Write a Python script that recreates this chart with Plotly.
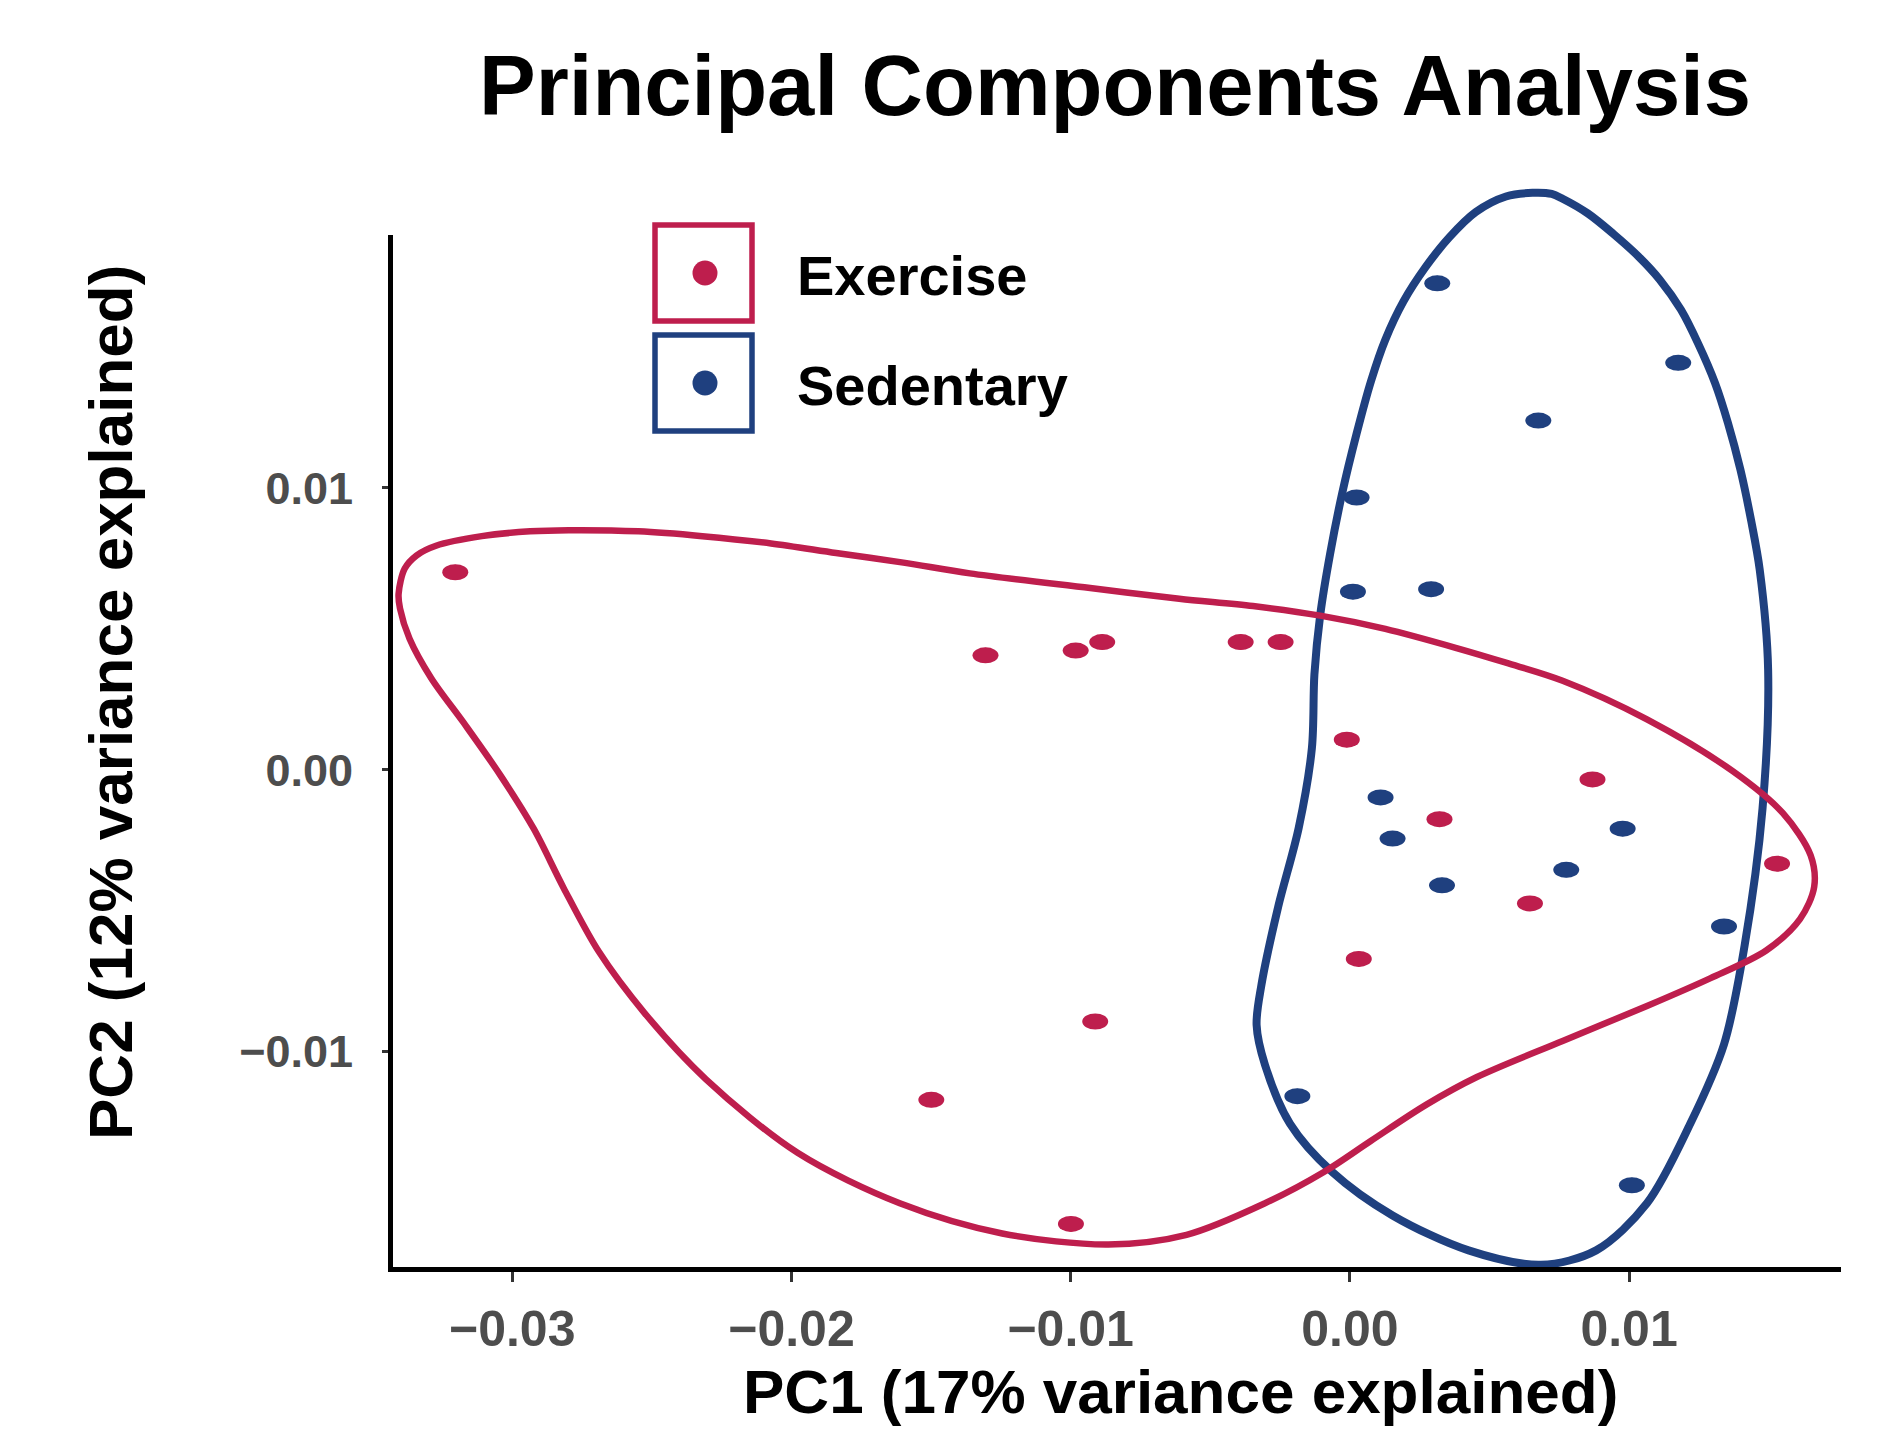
import plotly.graph_objects as go

# ---------------- data ----------------
exercise_pc1 = [-0.03204, -0.01305, -0.00982, -0.00887, -0.00391, -0.00248, -0.00011,
                0.00869, 0.00321, 0.00645, 0.01530, 0.00032, -0.00912, -0.01499, -0.00999]
exercise_pc2 = [0.00701, 0.00406, 0.00423, 0.00453, 0.00453, 0.00453, 0.00107,
                -0.00034, -0.00175, -0.00474, -0.00333, -0.00671, -0.00893, -0.01171, -0.01611]

sedentary_pc1 = [0.00313, 0.01176, 0.00675, 0.00024, 0.00011, 0.00291, 0.00110,
                 0.00153, 0.00977, 0.00775, 0.00330, 0.01340, -0.00188, 0.01010]
sedentary_pc2 = [0.01726, 0.01444, 0.01239, 0.00966, 0.00632, 0.00641, -0.00098,
                 -0.00244, -0.00209, -0.00355, -0.00410, -0.00556, -0.01158, -0.01474]

# group outlines
exercise_hull_pc1 = [-0.03407, -0.03385, -0.03342, -0.03273, -0.03109, -0.02936, -0.02798, -0.02548,
                     -0.02319, -0.02073, -0.01840, -0.01599, -0.01361, -0.00930, -0.00611, -0.00347,
                     -0.00106, 0.00127, 0.00382, 0.00559, 0.00762, 0.01064, 0.01370, 0.01551,
                     0.01650, 0.01663, 0.01612, 0.01491, 0.01292, 0.01064, 0.00762, 0.00455,
                     0.00274, 0.00076, -0.00093, -0.00304, -0.00585, -0.00865, -0.01245, -0.01612,
                     -0.01978, -0.02306, -0.02526, -0.02690, -0.02816, -0.02923, -0.03044, -0.03174,
                     -0.03290, -0.03368, -0.03402, -0.03407]
exercise_hull_pc2 = [0.00624, 0.00714, 0.00761, 0.00795, 0.00829, 0.00846, 0.00850, 0.00846,
                     0.00829, 0.00803, 0.00769, 0.00735, 0.00697, 0.00645, 0.00607, 0.00581,
                     0.00547, 0.00500, 0.00432, 0.00380, 0.00316, 0.00179, -0.00004, -0.00154,
                     -0.00303, -0.00415, -0.00530, -0.00641, -0.00739, -0.00838, -0.00962, -0.01090,
                     -0.01188, -0.01316, -0.01427, -0.01538, -0.01650, -0.01684, -0.01645, -0.01538,
                     -0.01359, -0.01098, -0.00863, -0.00645, -0.00419, -0.00209, -0.00017, 0.00167,
                     0.00325, 0.00466, 0.00573, 0.00624]

sedentary_hull_pc1 = [0.00654, 0.00559, 0.00451, 0.00356, 0.00270, 0.00192, 0.00127, 0.00076,
                      0.00024, -0.00028, -0.00071, -0.00106, -0.00127, -0.00136, -0.00183,
                      -0.00257, -0.00317, -0.00334, -0.00304, -0.00214, -0.00063, 0.00153, 0.00425,
                      0.00684, 0.00882, 0.01064, 0.01219, 0.01340, 0.01413, 0.01478, 0.01498,
                      0.01468, 0.01437, 0.01399, 0.01354, 0.01308, 0.01247, 0.01186, 0.01110,
                      0.01034, 0.00943, 0.00852, 0.00762, 0.00723, 0.00654]
sedentary_hull_pc2 = [0.02047, 0.02034, 0.01979, 0.01889, 0.01782, 0.01662, 0.01526, 0.01380,
                      0.01192, 0.00979, 0.00765, 0.00551, 0.00338, 0.00077, -0.00205,
                      -0.00487, -0.00765, -0.00906, -0.01047, -0.01256, -0.01427, -0.01581, -0.01705,
                      -0.01756, -0.01705, -0.01538, -0.01256, -0.00974, -0.00628, -0.00137, 0.00355,
                      0.00709, 0.00885, 0.01064, 0.01231, 0.01372, 0.01513, 0.01632, 0.01739,
                      0.01821, 0.01902, 0.01974, 0.02026, 0.02043, 0.02047]

groups = ["Exercise", "Sedentary"]
x_tick_vals = [-0.03, -0.02, -0.01, 0.00, 0.01]
x_tick_text = ["\u22120.03", "\u22120.02", "\u22120.01", "0.00", "0.01"]
y_tick_vals = [-0.01, 0.00, 0.01]
y_tick_text = ["\u22120.01", "0.00", "0.01"]

# ---------------- style / layout ----------------
RED = "#BE1E4D"
BLUE = "#1F407F"
W, H = 1889, 1429
L, R, T, B = 393, 48, 150, 162
PW, PH = W - L - R, H - T - B
XR = [-0.03427, 0.01759]
YR = [-0.01764, 0.02199]
Y_AXIS_TOP = 0.01897
FONT = "Liberation Sans, Arial, sans-serif"


def px_x(px):
    return (px - L) / PW


def px_y(py):
    return (H - B - py) / PH


fig = go.Figure()

fig.add_trace(go.Scatter(x=sedentary_hull_pc1, y=sedentary_hull_pc2, mode="lines",
                         line=dict(color=BLUE, width=8, shape="spline", smoothing=0.9),
                         hoverinfo="skip", showlegend=False))
fig.add_trace(go.Scatter(x=exercise_hull_pc1, y=exercise_hull_pc2, mode="lines",
                         line=dict(color=RED, width=6.5, shape="spline", smoothing=0.9),
                         hoverinfo="skip", showlegend=False))
fig.add_trace(go.Scatter(x=exercise_pc1, y=exercise_pc2, mode="markers", name=groups[0],
                         marker=dict(color=RED, size=15), showlegend=False))
fig.add_trace(go.Scatter(x=sedentary_pc1, y=sedentary_pc2, mode="markers", name=groups[1],
                         marker=dict(color=BLUE, size=15), showlegend=False))

shapes = []
# oval point marks anchored at the data values
for xs, ys, col in [(exercise_pc1, exercise_pc2, RED), (sedentary_pc1, sedentary_pc2, BLUE)]:
    for xv, yv in zip(xs, ys):
        shapes.append(dict(type="circle", xref="x", yref="y", xsizemode="pixel", ysizemode="pixel",
                           xanchor=xv, yanchor=yv, x0=-13, x1=13, y0=-8, y1=8,
                           fillcolor=col, line=dict(width=0), layer="above"))

# left axis line (stops below the top of the panel)
y_top_paper = (Y_AXIS_TOP - YR[0]) / (YR[1] - YR[0])
shapes.append(dict(type="line", xref="paper", yref="paper", x0=-2.5 / PW, x1=-2.5 / PW,
                   y0=-5 / PH, y1=y_top_paper, line=dict(color="black", width=5)))

# legend boxes and keys
for (y0, y1, ym, col) in [(225, 321, 273, RED), (335, 431, 383, BLUE)]:
    shapes.append(dict(type="rect", xref="paper", yref="paper",
                       x0=px_x(655), x1=px_x(752), y0=px_y(y1), y1=px_y(y0),
                       line=dict(color=col, width=5.5), fillcolor="rgba(0,0,0,0)"))
    shapes.append(dict(type="circle", xref="paper", yref="paper", xsizemode="pixel",
                       ysizemode="pixel", xanchor=px_x(705), yanchor=px_y(ym),
                       x0=-12.5, x1=12.5, y0=-12.5, y1=12.5, fillcolor=col, line=dict(width=0)))

annotations = [
    dict(text="<b>Principal Components Analysis</b>", xref="paper", yref="paper",
         x=px_x(1115), y=px_y(86), xanchor="center", yanchor="middle", showarrow=False,
         font=dict(family=FONT, size=85, color="black")),
    dict(text="<b>" + groups[0] + "</b>", xref="paper", yref="paper", x=px_x(795), y=px_y(275),
         xanchor="left", yanchor="middle", showarrow=False,
         font=dict(family=FONT, size=56, color="black")),
    dict(text="<b>" + groups[1] + "</b>", xref="paper", yref="paper", x=px_x(795), y=px_y(385),
         xanchor="left", yanchor="middle", showarrow=False,
         font=dict(family=FONT, size=56, color="black")),
    dict(text="<b>PC1 (17% variance explained)</b>", xref="paper", yref="paper",
         x=px_x(1180), y=px_y(1391), xanchor="center", yanchor="middle", showarrow=False,
         font=dict(family=FONT, size=62, color="black")),
    dict(text="<b>PC2 (12% variance explained)</b>", xref="paper", yref="paper",
         x=px_x(110), y=px_y(703), xanchor="center", yanchor="middle", showarrow=False,
         textangle=-90, font=dict(family=FONT, size=62, color="black")),
]

fig.update_layout(
    width=W, height=H,
    margin=dict(l=L, r=R, t=T, b=B, pad=0),
    paper_bgcolor="white", plot_bgcolor="white",
    showlegend=False,
    shapes=shapes, annotations=annotations,
    xaxis=dict(range=XR, tickmode="array", tickvals=x_tick_vals, ticktext=x_tick_text,
               showline=True, linecolor="black", linewidth=5, ticks="outside", ticklen=10,
               tickwidth=3, tickcolor="#333333", showgrid=False, zeroline=False,
               tickfont=dict(family=FONT, size=50, color="#4D4D4D", weight="bold"),
               ticklabelstandoff=4),
    yaxis=dict(range=YR, tickmode="array", tickvals=y_tick_vals, ticktext=y_tick_text,
               showline=False, ticks="outside", ticklen=10, tickwidth=3, tickcolor="#333333",
               showgrid=False, zeroline=False,
               tickfont=dict(family=FONT, size=45, color="#4D4D4D", weight="bold"),
               ticklabelstandoff=20),
)

fig.write_html("out.html", config={"displayModeBar": False},
               post_script="document.body.style.margin='0px';")
